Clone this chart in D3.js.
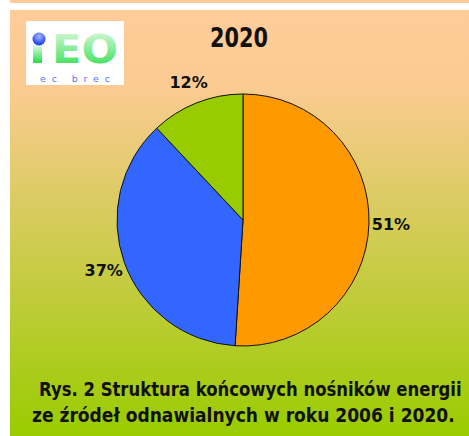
<!DOCTYPE html>
<html lang="pl">
<head>
<meta charset="UTF-8">
<title>Struktura 2020</title>
<script src="https://d3js.org/d3.v7.min.js"></script>
<style>
  body { margin: 0; background: #fff; }
  text { font-family: "DejaVu Sans", sans-serif; font-weight: bold; fill: #111; }
</style>
</head>
<body>
<svg width="469" height="436"></svg>
<script>
const categories = ["A", "B", "C"];
const values = [51, 37, 12];
const labels = ["51%", "37%", "12%"];
const colors = ["#FF9900", "#3366FF", "#99CC00"];
const title = "2020";
const caption = ["Rys. 2 Struktura końcowych nośników energii",
                 "ze źródeł odnawialnych w roku 2006 i 2020."];

const svg = d3.select("svg");
const defs = svg.append("defs");

const bg = defs.append("linearGradient").attr("id", "bg")
  .attr("x1", 0).attr("y1", 0).attr("x2", 0).attr("y2", 1);
bg.append("stop").attr("offset", "0%").attr("stop-color", "#FFCC99");
bg.append("stop").attr("offset", "18%").attr("stop-color", "#FBCB92");
bg.append("stop").attr("offset", "100%").attr("stop-color", "#99CC00");

const lg = defs.append("linearGradient").attr("id", "logo")
  .attr("x1", 0).attr("y1", 0).attr("x2", 0).attr("y2", 1);
lg.append("stop").attr("offset", "0%").attr("stop-color", "#E6FBE6");
lg.append("stop").attr("offset", "100%").attr("stop-color", "#22DD44");

const dot = defs.append("radialGradient").attr("id", "dot")
  .attr("cx", "50%").attr("cy", "30%").attr("r", "60%");
dot.append("stop").attr("offset", "0%").attr("stop-color", "#AABBFF");
dot.append("stop").attr("offset", "100%").attr("stop-color", "#2244EE");

// squeeze a text horizontally so it spans w pixels from x (anchor start)
function fit(sel, x, y, w, sy = 1) {
  const len = sel.node().getComputedTextLength();
  sel.attr("transform", `translate(${x},${y}) scale(${w / len},${sy})`);
  return sel;
}

// background
svg.append("rect").attr("x", 10).attr("y", 0).attr("width", 459).attr("height", 3).attr("fill", "#FFCC99");
svg.append("rect").attr("x", 10).attr("y", 10).attr("width", 459).attr("height", 426).attr("fill", "url(#bg)");

// logo
const logo = svg.append("g");
logo.append("rect").attr("x", 26).attr("y", 21).attr("width", 98).attr("height", 64).attr("fill", "#fff");
logo.append("rect").attr("x", 33).attr("y", 45).attr("width", 9).attr("height", 18).attr("fill", "url(#logo)");
logo.append("circle").attr("cx", 39).attr("cy", 39).attr("r", 6.5).attr("fill", "url(#dot)");
fit(logo.append("text").style("font-size", "34px").style("fill", "url(#logo)").text("EO"), 52, 63, 66, 1.15);
logo.append("text").attr("x", 40).attr("y", 82).attr("textLength", 70)
  .style("font-size", "9.5px").style("font-weight", "normal").style("fill", "#5577EE").text("ec brec");

// title
fit(svg.append("text").style("font-size", "27px").text(title), 210, 47, 58);

// pie
const cx = 243, cy = 220, r = 126;
const pie = d3.pie().sort(null).value(d => d)(values);
const arc = d3.arc().innerRadius(0).outerRadius(r);
const labelArc = d3.arc().innerRadius(148).outerRadius(148);

const g = svg.append("g").attr("transform", `translate(${cx},${cy})`);
g.selectAll("path").data(pie).join("path")
  .attr("d", arc)
  .attr("fill", (d, i) => colors[i])
  .attr("stroke", "#111").attr("stroke-width", 1);

g.selectAll("text").data(pie).join("text")
  .attr("transform", d => `translate(${labelArc.centroid(d)})`)
  .attr("text-anchor", "middle").attr("dy", "0.36em")
  .style("font-size", "16px")
  .text((d, i) => labels[i]);

// caption
fit(svg.append("text").style("font-size", "19px").text(caption[0]), 39, 396, 423);
fit(svg.append("text").style("font-size", "19px").text(caption[1]), 32, 422, 423);
</script>
</body>
</html>
